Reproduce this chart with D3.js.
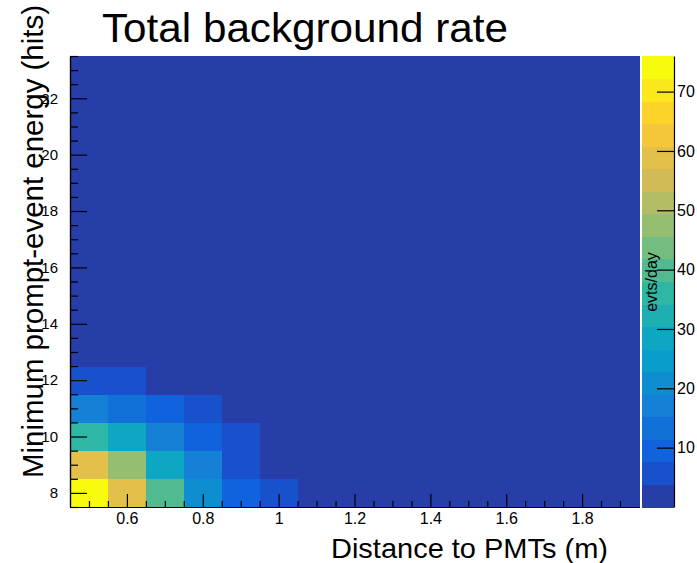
<!DOCTYPE html>
<html>
<head>
<meta charset="utf-8">
<script src="https://cdn.jsdelivr.net/npm/d3@7"></script>
<style>
  html, body { margin: 0; padding: 0; background: #fff; }
  svg { display: block; }
  text { font-family: "Liberation Sans", Arial, Helvetica, sans-serif; fill: #000; }
</style>
</head>
<body>
<svg id="chart" width="697" height="563"></svg>
<script>
// ---- data ----
const title = "Total background rate";
const xTitle = "Distance to PMTs (m)";
const yTitle = "Minimum prompt-event energy (hits)";
const zTitle = "evts/day";

// bin centres
const xBins = [0.5, 0.6, 0.7, 0.8, 0.9, 1.0, 1.1, 1.2, 1.3, 1.4, 1.5, 1.6, 1.7, 1.8, 1.9];
const yBins = [8, 9, 10, 11, 12, 13, 14, 15, 16, 17, 18, 19, 20, 21, 22, 23];

// rates (evts/day), one row per y bin (bottom to top), one value per x bin
const rates = [
  [75, 60, 40, 21, 10, 6, 1, 1, 1, 1, 1, 1, 1, 1, 1],
  [59, 48, 30, 17, 6, 1, 1, 1, 1, 1, 1, 1, 1, 1, 1],
  [36, 27, 17, 10, 6, 1, 1, 1, 1, 1, 1, 1, 1, 1, 1],
  [17, 14, 10, 6, 1, 1, 1, 1, 1, 1, 1, 1, 1, 1, 1],
  [7, 7, 1, 1, 1, 1, 1, 1, 1, 1, 1, 1, 1, 1, 1],
  [1, 1, 1, 1, 1, 1, 1, 1, 1, 1, 1, 1, 1, 1, 1],
  [1, 1, 1, 1, 1, 1, 1, 1, 1, 1, 1, 1, 1, 1, 1],
  [1, 1, 1, 1, 1, 1, 1, 1, 1, 1, 1, 1, 1, 1, 1],
  [1, 1, 1, 1, 1, 1, 1, 1, 1, 1, 1, 1, 1, 1, 1],
  [1, 1, 1, 1, 1, 1, 1, 1, 1, 1, 1, 1, 1, 1, 1],
  [1, 1, 1, 1, 1, 1, 1, 1, 1, 1, 1, 1, 1, 1, 1],
  [1, 1, 1, 1, 1, 1, 1, 1, 1, 1, 1, 1, 1, 1, 1],
  [1, 1, 1, 1, 1, 1, 1, 1, 1, 1, 1, 1, 1, 1, 1],
  [1, 1, 1, 1, 1, 1, 1, 1, 1, 1, 1, 1, 1, 1, 1],
  [1, 1, 1, 1, 1, 1, 1, 1, 1, 1, 1, 1, 1, 1, 1],
  [1, 1, 1, 1, 1, 1, 1, 1, 1, 1, 1, 1, 1, 1, 1]
];
const zMax = 76;

const xMajorTicks = [0.6, 0.8, 1.0, 1.2, 1.4, 1.6, 1.8];
const xTickLabels = ["0.6", "0.8", "1", "1.2", "1.4", "1.6", "1.8"];
const xMinorTicks = [0.5, 0.55, 0.65, 0.7, 0.75, 0.85, 0.9, 0.95, 1.05, 1.1, 1.15, 1.25, 1.3, 1.35, 1.45, 1.5, 1.55, 1.65, 1.7, 1.75, 1.85, 1.9];
const yMajorTicks = [8, 10, 12, 14, 16, 18, 20, 22];
const yMinorTicks = [7.5, 8.5, 9, 9.5, 10.5, 11, 11.5, 12.5, 13, 13.5, 14.5, 15, 15.5, 16.5, 17, 17.5, 18.5, 19, 19.5, 20.5, 21, 21.5, 22.5, 23, 23.5];
const zTicks = [10, 20, 30, 40, 50, 60, 70];

// ROOT kBird palette
const birdStops = [0.0, 0.125, 0.25, 0.375, 0.5, 0.625, 0.75, 0.875, 1.0];
const birdR = [0.2082, 0.0592, 0.0780, 0.0232, 0.1802, 0.5301, 0.8186, 0.9956, 0.9764];
const birdG = [0.1664, 0.3599, 0.5041, 0.6419, 0.7178, 0.7492, 0.7328, 0.7862, 0.9832];
const birdB = [0.5293, 0.8684, 0.8385, 0.7914, 0.6425, 0.4662, 0.3499, 0.1968, 0.0539];
const nContours = 20;
const nColors = 255;

// ---- drawing ----
const svg = d3.select("#chart");
const L = 70, R = 639, T = 56, B = 507;
const x = d3.scaleLinear().domain([0.45, 1.95]).range([L, R]);
const y = d3.scaleLinear().domain([7.5, 23.5]).range([B, T]);

const palette = d3.scaleLinear()
  .domain(birdStops)
  .range(birdStops.map((s, i) => d3.rgb(birdR[i] * 255, birdG[i] * 255, birdB[i] * 255)))
  .interpolate(d3.interpolateRgb);

function bandColor(k) {
  const idx = Math.floor((k + 0.99) * nColors / nContours);
  return palette(Math.min(idx, nColors - 1) / (nColors - 1));
}
function colorOf(v) {
  let k = Math.floor(v / zMax * nContours);
  k = Math.max(0, Math.min(nContours - 1, k));
  return bandColor(k);
}

// cells
const cells = [];
yBins.forEach((yc, j) => xBins.forEach((xc, i) => cells.push({ xc, yc, v: rates[j][i] })));
svg.append("g").selectAll("rect").data(cells).join("rect")
  .attr("x", d => x(d.xc - 0.05))
  .attr("y", d => y(d.yc + 0.5))
  .attr("width", d => x(d.xc + 0.05) - x(d.xc - 0.05) + 0.5)
  .attr("height", d => y(d.yc - 0.5) - y(d.yc + 0.5) + 0.5)
  .attr("fill", d => colorOf(d.v))
  .attr("shape-rendering", "crispEdges");

// x axis
const gx = svg.append("g").attr("transform", `translate(0,${B})`);
gx.call(d3.axisBottom(x).tickValues(xMajorTicks).tickSizeInner(-13).tickSizeOuter(0).tickPadding(6)
  .tickFormat((d, i) => xTickLabels[i]));
gx.append("g").call(d3.axisBottom(x).tickValues(xMinorTicks).tickSizeInner(-6).tickSizeOuter(0).tickFormat(""));
gx.selectAll("path.domain").attr("stroke", "#000").attr("stroke-width", 1.2);
gx.selectAll("text").style("font-size", "16px").attr("fill", "#111");
gx.selectAll("line").attr("stroke", "#000").attr("stroke-width", 1.2);

// y axis
const gy = svg.append("g").attr("transform", `translate(${L},0)`);
gy.call(d3.axisLeft(y).tickValues(yMajorTicks).tickSizeInner(-17).tickSizeOuter(0).tickPadding(12)
  .tickFormat(d3.format("d")));
gy.append("g").call(d3.axisLeft(y).tickValues(yMinorTicks).tickSizeInner(-8).tickSizeOuter(0).tickFormat(""));
gy.selectAll("path.domain").attr("stroke", "#000").attr("stroke-width", 1.2);
gy.selectAll("text").style("font-size", "15px").attr("fill", "#111");
gy.selectAll("line").attr("stroke", "#000").attr("stroke-width", 1.2);

// colour bar
const CL = 642, CR = 674;
const z = d3.scaleLinear().domain([0, zMax]).range([B, T]);
const bands = d3.range(nContours);
svg.append("g").selectAll("rect").data(bands).join("rect")
  .attr("x", CL)
  .attr("width", CR - CL)
  .attr("y", k => z((k + 1) * zMax / nContours))
  .attr("height", k => z(k * zMax / nContours) - z((k + 1) * zMax / nContours) + 0.5)
  .attr("fill", k => bandColor(k))
  .attr("shape-rendering", "crispEdges");
const gz = svg.append("g").attr("transform", `translate(${CR},0)`);
gz.call(d3.axisRight(z).tickValues(zTicks).tickSizeInner(-17).tickSizeOuter(0).tickPadding(3)
  .tickFormat(d3.format("d")));
gz.selectAll("path.domain").attr("stroke", "#000").attr("stroke-width", 1.2);
gz.selectAll("line").attr("stroke", "#000").attr("stroke-width", 1.2);
gz.selectAll("text").style("font-size", "16px").attr("fill", "#111");

svg.append("text")
  .attr("transform", "translate(657,282) rotate(-90)")
  .attr("text-anchor", "middle")
  .style("font-size", "16px")
  .attr("fill", "#111")
  .text(zTitle);

// titles
svg.append("text")
  .attr("x", 102).attr("y", 42)
  .attr("textLength", 406).attr("lengthAdjust", "spacingAndGlyphs")
  .style("font-size", "40px")
  .text(title);

svg.append("text")
  .attr("x", 331).attr("y", 558)
  .attr("textLength", 277).attr("lengthAdjust", "spacingAndGlyphs")
  .style("font-size", "28px")
  .text(xTitle);

svg.append("text")
  .attr("transform", "translate(43,478) rotate(-90)")
  .attr("textLength", 473).attr("lengthAdjust", "spacingAndGlyphs")
  .style("font-size", "29px")
  .text(yTitle);
</script>
</body>
</html>
